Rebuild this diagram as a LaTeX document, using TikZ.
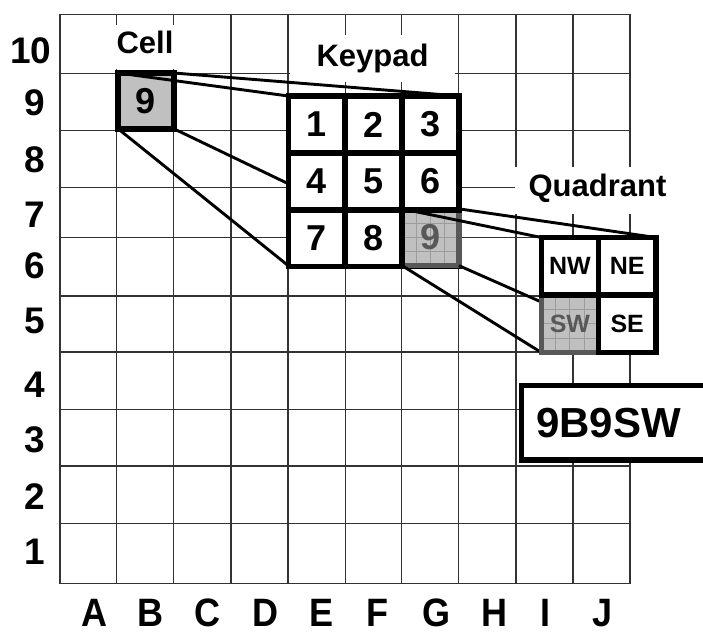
\documentclass[tikz,border=0pt]{standalone}
\usepackage{fontspec}
\usepackage{graphicx}
\setmainfont{Liberation Sans}
\usetikzlibrary{calc}
\definecolor{gridc}{HTML}{333333}
\definecolor{cellgray}{HTML}{C0C0C0}
\definecolor{darkg}{HTML}{585858}
\definecolor{subg}{HTML}{9C9C9C}
\newcommand\fsz[1]{\fontsize{#1}{#1}\selectfont\bfseries}
\begin{document}
\begin{tikzpicture}[x=1pt,y=-1pt,
  gridline/.style={gridc, line width=1.3pt},
  thickbox/.style={draw=black, line width=5.5pt, fill=white, outer sep=0pt, inner sep=0pt, minimum size=56.8pt},
  conn/.style={black, line width=2.9pt},
  lbl/.style={fill=white, inner sep=0pt, outer sep=0pt, font=\fsz{31}},
  rowlbl/.style={inner sep=0pt, font=\fsz{37}},
  collbl/.style={inner sep=0pt, font=\fsz{36}},
  digit/.style={font=\fsz{36}},
  quadtxt/.style={font=\fsz{25}},
  mapcell/.style={fill=cellgray, draw=darkg, text=darkg,
    path picture={
      \foreach \t in {0.25,0.5,0.75}{
        \draw[subg, line width=1pt]
          ($(path picture bounding box.north west)!\t!(path picture bounding box.north east)$) --
          ($(path picture bounding box.south west)!\t!(path picture bounding box.south east)$);
        \draw[subg, line width=1pt]
          ($(path picture bounding box.north west)!\t!(path picture bounding box.south west)$) --
          ($(path picture bounding box.north east)!\t!(path picture bounding box.south east)$);
      }}}
]
\useasboundingbox (0,0) rectangle (703,635);
\clip (0,0) rectangle (703,635);

% grid
\foreach \x in {60,116.3,173.3,231,288,345.7,401.5,458.3,516,573,630}
  \draw[gridline] (\x,14.3) -- (\x,583.5);
\foreach \y in {14.3,73.3,130.7,187.7,237.7,296,352,409.3,466,523.7,583.5}
  \draw[gridline] (60,\y) -- (630,\y);

% row labels
\node[rowlbl] (r10) at (31,51) {10};
\node[rowlbl] (r9) at (35,102.5) {9};
\node[rowlbl] (r8) at (35,159.5) {8};
\node[rowlbl] (r7) at (35,215) {7};
\node[rowlbl] (r6) at (35,266) {6};
\node[rowlbl] (r5) at (35,321) {5};
\node[rowlbl] (r4) at (35,384.5) {4};
\node[rowlbl] (r3) at (35,439.5) {3};
\node[rowlbl] (r2) at (35,496.5) {2};
\node[rowlbl] (r1) at (35,552) {1};

% column labels
\node[collbl] (cA) at (94.5,613) {\scalebox{1}[1.1]{A}};
\node[collbl] (cB) at (150,613) {\scalebox{1}[1.1]{B}};
\node[collbl] (cC) at (207.5,613) {\scalebox{1}[1.1]{C}};
\node[collbl] (cD) at (265,613) {\scalebox{1}[1.1]{D}};
\node[collbl] (cE) at (321.5,613) {\scalebox{1}[1.1]{E}};
\node[collbl] (cF) at (377,613) {\scalebox{1}[1.1]{F}};
\node[collbl] (cG) at (436,613) {\scalebox{1}[1.1]{G}};
\node[collbl] (cH) at (494,613) {\scalebox{1}[1.1]{H}};
\node[collbl] (cI) at (545,613) {\scalebox{1}[1.1]{I}};
\node[collbl] (cJ) at (603,613) {\scalebox{1}[1.1]{J}};

% titles
\node[lbl, minimum width=85pt, minimum height=44pt, text height=22pt, text depth=9.4pt] (celllbl) at (145,47) {Cell};
\node[lbl, minimum width=165pt, minimum height=47pt, text height=22pt, text depth=5.6pt] (kplbl) at (372.5,58.5) {Keypad};
\node[lbl, minimum width=166pt, minimum height=47pt, text height=22pt, text depth=9.6pt] (qlbl) at (597.5,190.5) {Quadrant};

% cell B9
\node[thickbox, fill=cellgray, minimum size=55.8pt, digit] (cell) at (146,100.9) {9};

% keypad outline corners (for connectors)
\coordinate (kpnw) at (288.3,96);
\coordinate (kpne) at (459,96);
\coordinate (kpsw) at (288.3,265.7);
\coordinate (kpse) at (459,265.7);

\draw[conn] (cell.north west) -- (kpnw);
\draw[conn] (cell.north east) -- (kpne);
\draw[conn] (cell.south west) -- (kpsw);
\draw[conn] (cell.south east) -- (kpse);

\node[thickbox, minimum size=170.7pt] (kp) at (373.65,180.85) {};
\node[thickbox, mapcell, line width=5.5pt, digit] (k9) at (430.55,237.25) {9};
\node[thickbox, digit] (k1) at (316.75,124.45) {1};
\node[thickbox, digit] (k2) at (373.65,124.45) {2};
\node[thickbox, digit] (k3) at (430.55,124.45) {3};
\node[thickbox, digit] (k4) at (316.75,181.35) {4};
\node[thickbox, digit] (k5) at (373.65,181.35) {5};
\node[thickbox, digit] (k6) at (430.55,181.35) {6};
\node[thickbox, digit] (k7) at (316.75,238.25) {7};
\node[thickbox, digit] (k8) at (373.65,238.25) {8};

% quadrant outline corners (for connectors)
\coordinate (qnw) at (541.3,237.5);
\coordinate (qne) at (655.8,237.5);
\coordinate (qsw) at (541.3,352.5);
\coordinate (qse) at (655.8,352.5);

\draw[conn] (k9.north west) -- (qnw);
\draw[conn] (k9.north east) -- (qne);
\draw[conn] (k9.south west) -- (qsw);
\draw[conn] (k9.south east) -- (qse);

\node[thickbox, minimum width=114.5pt, minimum height=115pt] (q) at (598.55,295) {};
\node[thickbox, mapcell, minimum size=57.25pt, quadtxt] (qSW) at (569.9,323.75) {SW};
\node[thickbox, minimum size=57.25pt, quadtxt] (qNW) at (569.9,266.25) {NW};
\node[thickbox, minimum size=57.25pt, quadtxt] (qNE) at (627.2,266.25) {NE};
\node[thickbox, minimum size=57.25pt, quadtxt] (qSE) at (627.2,323.75) {SE};

% result code
\node[thickbox, anchor=west, minimum size=0pt, minimum height=74.5pt, inner xsep=14.5pt,
      text width=220pt, align=left, font=\fsz{42}] (code) at (521.5,422.75) {9B9SW};
\end{tikzpicture}
\end{document}
